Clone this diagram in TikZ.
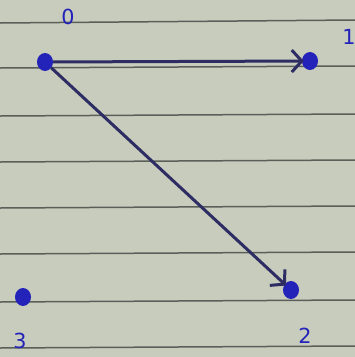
\documentclass[tikz,border=0pt]{standalone}
\usepackage{fontspec}
\setmainfont{DejaVu Sans}
\usetikzlibrary{arrows.meta}
\definecolor{paper}{RGB}{200,204,188}
\definecolor{rule}{RGB}{90,95,90}
\definecolor{ink}{RGB}{35,35,185}
\definecolor{pen}{RGB}{45,45,100}
\tikzset{
  vertex/.style={ellipse,fill=ink,inner sep=0pt,minimum width=16pt,minimum height=18pt},
  lbl/.style={text=ink,font=\huge},
  edge/.style={pen,line width=3pt,shorten >=-2pt,-{Straight Barb[length=10pt,width=22pt,line width=3pt]}},
  ruled/.style={rule,line width=1.5pt}
}
\usetikzlibrary{shapes.geometric}
\begin{document}
\begin{tikzpicture}[x=1pt,y=-1pt]
\fill[paper] (0,0) rectangle (355,357);
\useasboundingbox (0,0) rectangle (355,357);
\foreach \y/\z in {23/20,68/66,116/114,162/160,208/206,254/252,302/300,348/346}
  \draw[ruled] (0,\y) -- (355,\z);
\node[vertex] (v0) at (45,62) {};
\node[vertex] (v1) at (310,61) {};
\node[vertex] (v2) at (291,290) {};
\node[vertex] (v3) at (23,297) {};
\node[lbl] (l0) at (68,17) {0};
\node[lbl] (l1) at (349,37) {1};
\node[lbl] (l2) at (305,336) {2};
\node[lbl] (l3) at (20,341) {3};
\draw[edge] (v0) -- (v1);
\draw[edge] (v0) -- (v2);
\end{tikzpicture}
\end{document}
